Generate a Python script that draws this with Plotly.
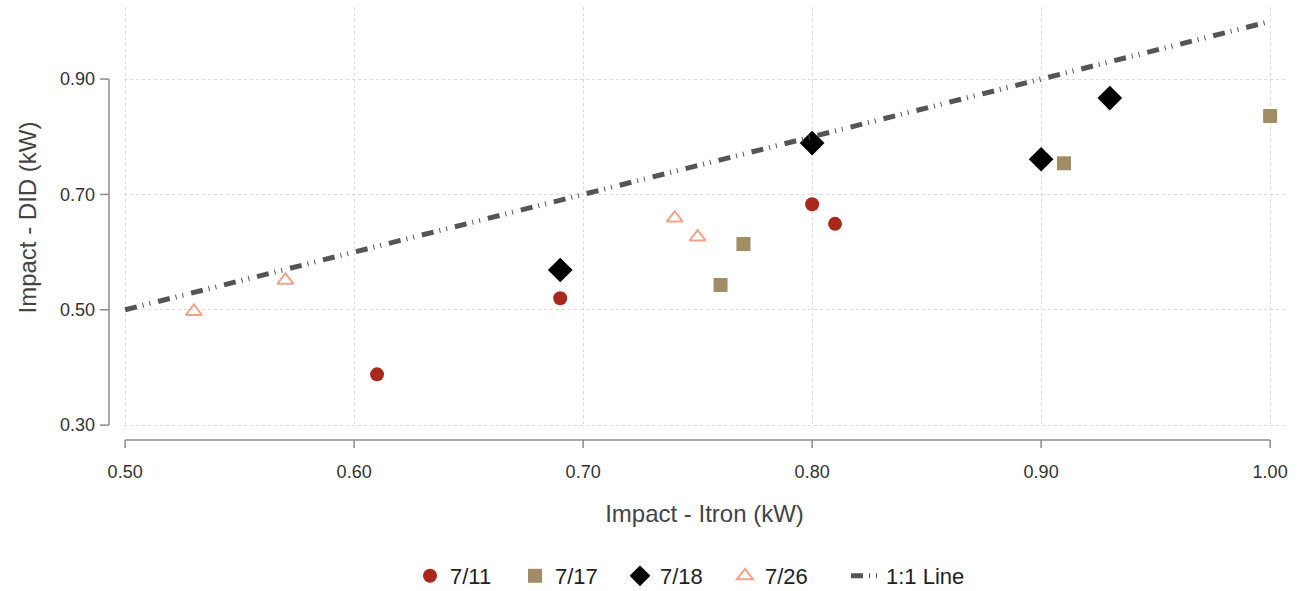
import plotly.graph_objects as go

# ---- data ----
itron_711 = [0.61, 0.69, 0.80, 0.81]
did_711 = [0.388, 0.520, 0.683, 0.649]
itron_717 = [0.76, 0.77, 0.91, 1.00]
did_717 = [0.543, 0.614, 0.754, 0.836]
itron_718 = [0.69, 0.80, 0.90, 0.93]
did_718 = [0.569, 0.789, 0.761, 0.867]
itron_726 = [0.53, 0.57, 0.74, 0.75]
did_726 = [0.497, 0.551, 0.659, 0.626]
line_x = [0.50, 1.00]
line_y = [0.50, 1.00]

x_ticks = [0.50, 0.60, 0.70, 0.80, 0.90, 1.00]
x_ticklabels = ["0.50", "0.60", "0.70", "0.80", "0.90", "1.00"]
y_ticks = [0.30, 0.50, 0.70, 0.90]
y_ticklabels = ["0.30", "0.50", "0.70", "0.90"]

XR = [0.4995, 1.0065]
YR = [0.295, 1.025]

FONT = "Liberation Sans, Arial, sans-serif"
TXT = "#333333"
AX = "#8c8c8c"

fig = go.Figure()
fig.add_trace(go.Scatter(x=itron_711, y=did_711, mode="markers", name="7/11",
                         marker=dict(symbol="circle", size=14, color="#a8291c"), cliponaxis=False))
fig.add_trace(go.Scatter(x=itron_717, y=did_717, mode="markers", name="7/17",
                         marker=dict(symbol="square", size=14, color="#a08d66"), cliponaxis=False))
fig.add_trace(go.Scatter(x=itron_718, y=did_718, mode="markers", name="7/18",
                         marker=dict(symbol="diamond", size=19, color="#000000"), cliponaxis=False))
fig.add_trace(go.Scatter(x=itron_726, y=did_726, mode="markers", name="7/26",
                         marker=dict(symbol="triangle-up-open", size=14, color="#f0a48a",
                                     line=dict(width=2, color="#f0a48a")), cliponaxis=False))
fig.add_trace(go.Scatter(x=line_x, y=line_y, mode="lines", name="1:1 Line", legend="legend2",
                         line=dict(color="#555555", width=5, dash="12px,6px,1px,6px,1px,8px"),
                         cliponaxis=False))

def px_x(v):
    return (v - XR[0]) / (XR[1] - XR[0])

def px_y(v):
    return (v - YR[0]) / (YR[1] - YR[0])

plot_w = 1302 - 124 - 17
plot_h = 591 - 7 - 163
shapes = []
# y axis line (offset left of plot)
yx = -15 / plot_w
shapes.append(dict(type="line", xref="paper", yref="paper", x0=yx, x1=yx,
                   y0=px_y(y_ticks[0]), y1=px_y(y_ticks[-1]), line=dict(color=AX, width=1.5)))
for t in y_ticks:
    shapes.append(dict(type="line", xref="paper", yref="paper", x0=yx - 9 / plot_w, x1=yx,
                       y0=px_y(t), y1=px_y(t), line=dict(color=AX, width=1.5)))
# x axis line (offset below plot)
xy = -12 / plot_h
shapes.append(dict(type="line", xref="paper", yref="paper", y0=xy, y1=xy,
                   x0=px_x(x_ticks[0]), x1=px_x(x_ticks[-1]), line=dict(color=AX, width=1.5)))
for t in x_ticks:
    shapes.append(dict(type="line", xref="paper", yref="paper", y0=xy - 8 / plot_h, y1=xy,
                       x0=px_x(t), x1=px_x(t), line=dict(color=AX, width=1.5)))

leg_y = (428 - 576) / plot_h
fig.update_layout(
    width=1302, height=591,
    margin=dict(l=124, r=17, t=7, b=163, autoexpand=False),
    plot_bgcolor="white", paper_bgcolor="white",
    font=dict(family=FONT, color=TXT),
    shapes=shapes,
    showlegend=True,
    legend=dict(orientation="h", x=(410 - 124) / plot_w, xanchor="left", y=leg_y, yanchor="middle",
                font=dict(size=22, color="#222222"), entrywidth=60, itemwidth=30,
                tracegroupgap=0, bgcolor="rgba(0,0,0,0)"),
    legend2=dict(orientation="h", x=(846 - 124) / plot_w, xanchor="left", y=leg_y, yanchor="middle",
                 font=dict(size=22, color="#222222"), itemwidth=30, bgcolor="rgba(0,0,0,0)"),
    xaxis=dict(range=XR, tickvals=x_ticks, ticktext=x_ticklabels, showline=False, automargin=False,
               zeroline=False, showgrid=True, gridcolor="#dadada", griddash="dot", gridwidth=1,
               ticks="", ticklabelstandoff=31, tickfont=dict(size=18, color=TXT),
               title=dict(text="Impact - Itron (kW)", font=dict(size=24, color="#444444"), standoff=24)),
    yaxis=dict(range=YR, tickvals=y_ticks, ticktext=y_ticklabels, showline=False, automargin=False,
               zeroline=False, showgrid=True, gridcolor="#dadada", griddash="dot", gridwidth=1,
               ticks="", ticklabelstandoff=28, tickfont=dict(size=18, color=TXT),
               title=dict(text="Impact - DID (kW)", font=dict(size=24, color="#444444"), standoff=16)),
)

fig.write_html("out.html")
